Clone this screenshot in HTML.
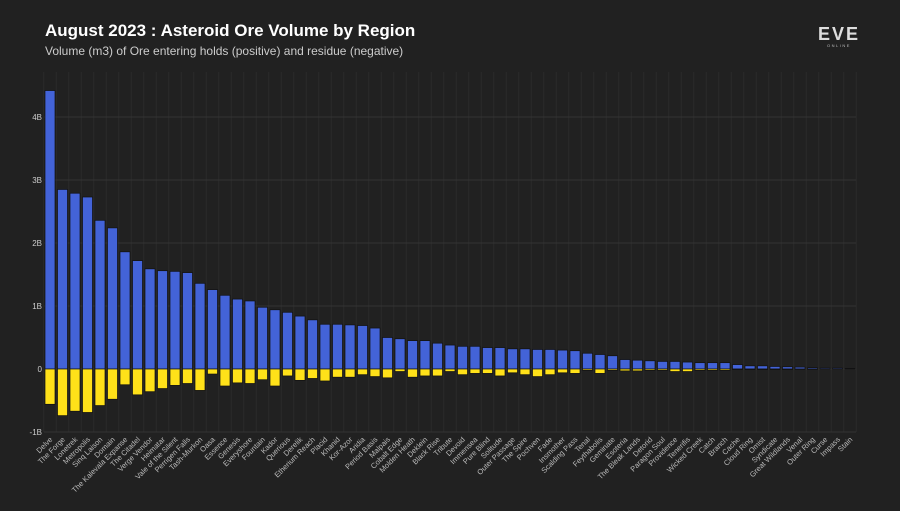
<!DOCTYPE html>
<html><head><meta charset="utf-8"><style>
body{margin:0;background:#212121;width:900px;height:506px;overflow:hidden;font-family:"Liberation Sans",sans-serif}
</style></head><body>
<svg id="chart" width="900" height="506" xmlns="http://www.w3.org/2000/svg">
<rect width="900" height="506" fill="#212121"/>
<text x="45" y="36" fill="#fff" font-size="17" font-weight="bold">August 2023 : Asteroid Ore Volume by Region</text>
<text x="45" y="55" fill="#ccc" font-size="12">Volume (m3) of Ore entering holds (positive) and residue (negative)</text>
<g>
<text x="839" y="40" fill="#ddd" font-size="18" font-weight="bold" text-anchor="middle" letter-spacing="2">EVE</text>
<text x="839" y="47" fill="#bbb" font-size="4" text-anchor="middle" letter-spacing="1.5">ONLINE</text>
</g>
<g id="grid"></g><g id="bars"></g><g id="labels"></g>
</svg>
<script>
const regions=["Delve","The Forge","Lonetrek","Metropolis","Sinq Laison","Domain","The Kalevala Expanse","The Citadel","Verge Vendor","Heimatar","Vale of the Silent","Perrigen Falls","Tash-Murkon","Oasa","Essence","Genesis","Everyshore","Fountain","Kador","Querious","Derelik","Etherium Reach","Placid","Khanid","Kor-Azor","Aridia","Period Basis","Malpais","Cobalt Edge","Molden Heath","Deklein","Black Rise","Tribute","Devoid","Immensea","Pure Blind","Solitude","Outer Passage","The Spire","Pochven","Fade","Insmother","Scalding Pass","Tenal","Feythabolis","Geminate","Esoteria","The Bleak Lands","Detorid","Paragon Soul","Providence","Tenerifis","Wicked Creek","Catch","Branch","Cache","Cloud Ring","Omist","Syndicate","Great Wildlands","Venal","Outer Ring","Curse","Impass","Stain"];
const oreIn=[4.42,2.85,2.79,2.73,2.36,2.24,1.86,1.72,1.59,1.56,1.55,1.53,1.36,1.26,1.17,1.11,1.08,0.98,0.94,0.90,0.84,0.78,0.71,0.71,0.70,0.69,0.65,0.50,0.48,0.45,0.45,0.41,0.38,0.36,0.36,0.34,0.34,0.32,0.32,0.31,0.31,0.30,0.29,0.25,0.23,0.21,0.15,0.14,0.13,0.12,0.12,0.11,0.10,0.10,0.10,0.07,0.05,0.05,0.04,0.035,0.03,0.02,0.015,0.015,0.01];
const residue=[-0.56,-0.74,-0.67,-0.69,-0.58,-0.48,-0.25,-0.41,-0.36,-0.31,-0.26,-0.23,-0.34,-0.08,-0.27,-0.22,-0.23,-0.17,-0.27,-0.11,-0.18,-0.15,-0.19,-0.13,-0.13,-0.09,-0.12,-0.14,-0.04,-0.13,-0.11,-0.11,-0.04,-0.09,-0.07,-0.07,-0.11,-0.06,-0.09,-0.12,-0.09,-0.06,-0.07,-0.02,-0.07,-0.02,-0.03,-0.03,-0.02,-0.02,-0.04,-0.04,-0.02,-0.02,-0.02,-0.01,-0.01,-0.01,-0.01,-0.01,-0.005,-0.005,0,0,0];
const yTicks=[-1,0,1,2,3,4];
const yTickLabels=["-1B","0","1B","2B","3B","4B"];
const NS="http://www.w3.org/2000/svg";
const y0=369,pxPerB=63,x0=50,step=12.5,bw=10;
const yS=v=>y0-v*pxPerB;
const xS=i=>x0+i*step;
function mk(t,a,p){const e=document.createElementNS(NS,t);for(const k in a)e.setAttribute(k,a[k]);p.appendChild(e);return e;}
const grid=document.getElementById('grid'),bars=document.getElementById('bars'),labels=document.getElementById('labels');
for(let i=0;i<=regions.length;i++){const gx=xS(i)-step/2;
 const l=mk('line',{x1:gx,x2:gx,y1:72,y2:yS(-1),stroke:'#2b2b2b','stroke-width':1},grid);
 
 }
yTicks.forEach((t,k)=>{
 const l=mk('line',{x1:44,x2:856,y1:yS(t),y2:yS(t),stroke:'#333','stroke-width':1},grid);
 
 
 const tx=mk('text',{x:42,y:yS(t)+3,fill:'#ccc','font-size':8,'text-anchor':'end'},grid);
 tx.textContent=yTickLabels[k];
 
 });
regions.forEach((r,i)=>{
 const cx=xS(i);
 const b=mk('rect',{x:cx-bw/2,y:yS(oreIn[i]),width:bw,height:yS(0)-yS(oreIn[i]),fill:'#4363d8',stroke:'#111','stroke-width':0.7},bars);
 
 
 const n=mk('rect',{x:cx-bw/2,y:yS(0),width:bw,height:Math.max(0,yS(residue[i])-yS(0)),fill:'#ffe119',stroke:'#111','stroke-width':0.7},bars);
 
 
 const t=mk('text',{x:cx+3,y:440,fill:'#bbb','font-size':7.5,'text-anchor':'end',transform:`rotate(-45 ${cx+3} 440)`},labels);
 t.textContent=r;
 
 });
</script>
</body></html>
